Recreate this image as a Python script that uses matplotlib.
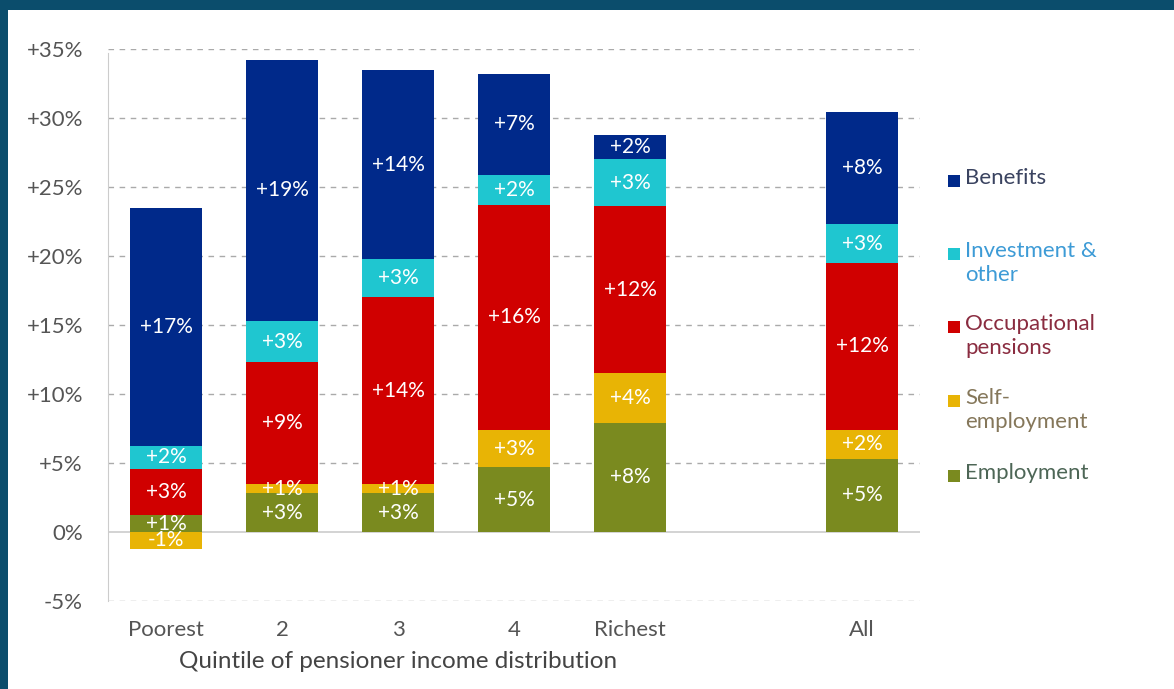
import matplotlib
matplotlib.use('Agg')
from matplotlib import pyplot as plt
from matplotlib.patches import Rectangle
from matplotlib import transforms

plt.rcParams['font.family'] = ['Lato', 'DejaVu Sans']

# x positions: five quintiles, a gap, then the total
categories = ['Poorest', '2', '3', '4', 'Richest', 'All']
positions = [0, 1, 2, 3, 4, 6]

# percentage-point contributions to income growth, bottom to top
employment = [1.2, 2.8, 2.8, 4.7, 7.9, 5.3]
self_employment = [-1.2, 0.7, 0.65, 2.7, 3.6, 2.1]
occupational = [3.4, 8.8, 13.6, 16.3, 12.1, 12.1]
investment = [1.6, 3.0, 2.7, 2.2, 3.4, 2.8]
benefits = [17.3, 18.9, 13.7, 7.3, 1.8, 8.1]

series = [
    ('Employment', employment, '#7a8a1f'),
    ('Self-\nemployment', self_employment, '#e8b405'),
    ('Occupational\npensions', occupational, '#d00000'),
    ('Investment &\nother', investment, '#1fc6d0'),
    ('Benefits', benefits, '#00298a'),
]

fig = plt.figure(figsize=(11.74, 6.89), dpi=100, facecolor='white')
# dark frame along the top and left edges
fig.patches.append(Rectangle((0, 1 - 10 / 689), 1, 10 / 689, transform=fig.transFigure,
                             facecolor='#0b4d6c', edgecolor='none'))
fig.patches.append(Rectangle((0, 0), 8 / 1174, 1, transform=fig.transFigure,
                             facecolor='#0b4d6c', edgecolor='none'))

ax = fig.add_axes([108 / 1174, 1 - 601 / 689, (920 - 108) / 1174, 552 / 689])
ax.set_facecolor('none')

width = 0.62
pos_base = [0.0] * len(positions)
neg_base = [0.0] * len(positions)
for name, vals, color in series:
    bottoms = []
    for i, v in enumerate(vals):
        if v >= 0:
            bottoms.append(pos_base[i])
            pos_base[i] += v
        else:
            bottoms.append(neg_base[i])
            neg_base[i] += v
    ax.bar(positions, vals, width=width, bottom=bottoms, color=color, zorder=3)
    for x, v, b in zip(positions, vals, bottoms):
        ax.text(x, b + v / 2, '{:+.0f}%'.format(v), ha='center', va='center',
                color='white', fontsize=15, zorder=4)

ax.set_xlim(-0.5, 6.5)
ax.set_ylim(-5, 35)
ax.set_yticks(range(-5, 36, 5))
ax.set_yticklabels(['{:+d}%'.format(t) if t != 0 else '0%' for t in range(-5, 36, 5)])
ax.set_xticks(positions)
ax.set_xticklabels(categories)
ax.tick_params(axis='both', length=0, labelsize=16, colors='#555555')
ax.tick_params(axis='y', pad=18)
ax.tick_params(axis='x', pad=14)

for t in range(-5, 36, 5):
    if t == 0:
        ax.axhline(0, color='#cccccc', lw=1.2, zorder=2)
    else:
        ax.axhline(t, color='#aaaaaa', lw=1, ls=(0, (4, 4)), zorder=1)

for s in ['top', 'right', 'bottom']:
    ax.spines[s].set_visible(False)
ax.spines['left'].set_color('#cccccc')
ax.spines['left'].set_bounds(-5, 34.7)

trans = transforms.blended_transform_factory(ax.transData, fig.transFigure)
ax.text(2, 1 - 661 / 689, 'Quintile of pensioner income distribution', transform=trans,
        ha='center', va='center', fontsize=17.5, color='#444444')

# legend drawn by hand so each entry can sit beside its segment
legend_items = [
    ('Benefits', '#00298a', '#3a4360', 181),
    ('Investment &\nother', '#1fc6d0', '#3d9bd6', 254),
    ('Occupational\npensions', '#d00000', '#8a2c40', 327),
    ('Self-\nemployment', '#e8b405', '#85775a', 401),
    ('Employment', '#7a8a1f', '#4d6656', 476),
]
for label, box, txt, ypix in legend_items:
    fig.patches.append(Rectangle((948 / 1174, 1 - (ypix + 6) / 689), 12 / 1174, 12 / 689,
                                 transform=fig.transFigure, facecolor=box, edgecolor='none'))
    fig.text(965 / 1174, 1 - (ypix - 13) / 689, label, ha='left', va='top',
             fontsize=16, color=txt, linespacing=1.25)

fig.savefig('out.png', dpi=100)
